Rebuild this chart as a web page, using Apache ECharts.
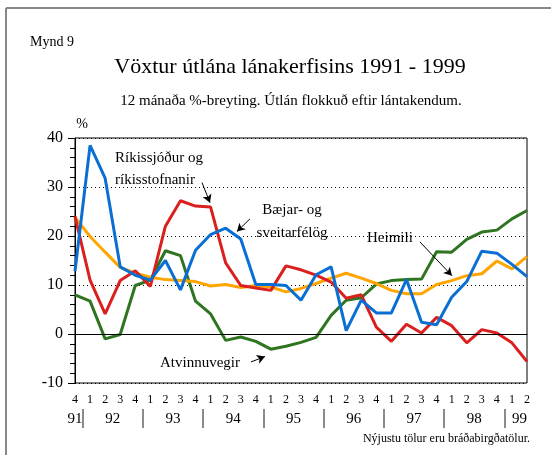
<!DOCTYPE html>
<html>
<head>
<meta charset="utf-8">
<script src="https://cdn.jsdelivr.net/npm/echarts@6/dist/echarts.min.js"></script>
<style>
  html, body { margin: 0; padding: 0; background: #fff; overflow: hidden; }
  #chart { width: 558px; height: 455px; }
</style>
</head>
<body>
<div id="chart"></div>
<script>
// Vöxtur útlána lánakerfisins 1991 - 1999, quarterly 4/91 .. 2/99

var quarters = ["4", "1", "2", "3", "4", "1", "2", "3", "4", "1", "2", "3", "4", "1", "2", "3",
  "4", "1", "2", "3", "4", "1", "2", "3", "4", "1", "2", "3", "4", "1", "2"];

// year labels sit on a half-step axis (index = 2 * quarter position)
var yearLabels = { 0: "91", 5: "92", 13: "93", 21: "94", 29: "95", 37: "96", 45: "97", 53: "98", 59: "99" };
var yearSeparators = [1, 9, 17, 25, 33, 41, 49, 57];

var bankar = [12.8, 38.5, 31.8, 13.7, 12.0, 11.0, 15.0, 9.0, 17.1, 20.3, 21.6, 19.4, 10.1, 10.1, 9.9, 6.9,
  12.1, 13.7, 0.7, 6.9, 4.3, 4.3, 11.1, 2.4, 1.9, 7.5, 10.7, 16.9, 16.5, 14.2, 11.7];
var rikid = [24.0, 11.0, 4.1, 10.9, 12.9, 9.7, 22.0, 27.2, 26.1, 25.9, 14.5, 9.9, 9.4, 8.9, 13.9, 13.1,
  12.0, 10.6, 7.3, 8.0, 1.4, -1.5, 2.0, 0.2, 3.4, 1.7, -1.8, 0.9, 0.2, -1.8, -5.6];
var heimili = [23.8, 19.9, 16.7, 13.6, 12.4, 11.6, 11.1, 10.9, 10.7, 9.8, 10.1, 9.5, 9.9, 9.6, 8.6, 9.3,
  10.3, 11.4, 12.4, 11.4, 10.3, 8.9, 8.2, 8.2, 10.1, 10.9, 11.9, 12.3, 14.9, 13.3, 15.8];
var atvinnuvegir = [8.0, 6.7, -1.0, -0.1, 9.9, 11.0, 17.0, 16.0, 6.7, 4.1, -1.3, -0.6, -1.5, -3.1, -2.5, -1.7,
  -0.7, 3.8, 6.9, 7.4, 10.2, 10.9, 11.1, 11.2, 16.8, 16.7, 19.3, 20.8, 21.2, 23.5, 25.2];

// arrows from label to line, in axis units [quarter index, %]
var arrows = [
  [[8.43, 30.9], [8.96, 26.8]],
  [[11.61, 23.5], [10.75, 20.9]],
  [[22.89, 18.8], [25.02, 11.9]],
  [[11.68, -5.7], [12.61, -4.6]]
];

var serif = "Liberation Serif";

var halfSteps = [];
for (var k = 0; k <= 60; k++) halfSteps.push(yearLabels[k] || "");

function pairs(arr) {
  return arr.map(function (v, i) { return [i, v]; });
}

var dom = document.getElementById("chart");
var myChart = echarts.init(dom);

var option = {
  animation: false,
  backgroundColor: "#fff",
  textStyle: { fontFamily: serif },
  grid: {
    left: 75,
    right: 31,
    top: 138,
    bottom: 72,
    show: true,
    borderColor: "#000",
    borderWidth: 1,
    backgroundColor: "transparent",
  },
  xAxis: [
    {
      type: "value",
      min: 0,
      max: 30,
      interval: 1,
      axisLine: { show: true, lineStyle: { color: "#000" } },
      axisTick: { show: false },
      splitLine: { show: false },
      axisLabel: {
        margin: 11,
        color: "#000",
        fontSize: 12,
        fontFamily: serif,
        formatter: function (v) { return quarters[v] || ""; },
      },
    },
    {
      type: "category",
      position: "bottom",
      offset: 26,
      boundaryGap: false,
      data: halfSteps,
      axisLine: { show: false },
      axisTick: {
        show: true,
        inside: false,
        length: 19,
        interval: function (idx) { return yearSeparators.indexOf(idx) >= 0; },
        lineStyle: { color: "#666", width: 1.5 },
      },
      axisLabel: {
        interval: 0,
        margin: 3,
        color: "#000",
        fontSize: 15,
        fontFamily: serif,
      },
      splitLine: { show: false },
    },
  ],
  yAxis: {
    type: "value",
    min: -10,
    max: 40,
    interval: 10,
    axisLine: { show: true, lineStyle: { color: "#000" } },
    axisTick: { show: true, length: 7, lineStyle: { color: "#000" } },
    minorTick: { show: true, splitNumber: 5, length: 5, lineStyle: { color: "#000" } },
    splitLine: { show: true, lineStyle: { color: "#000", type: [1, 3], width: 1 } },
    axisLabel: { margin: 12, color: "#000", fontSize: 16, fontFamily: serif },
  },
  series: [
    {
      name: "Atvinnuvegir",
      type: "line",
      data: pairs(atvinnuvegir),
      symbol: "none",
      lineStyle: { color: "#2f7420", width: 3 },
      markLine: {
        silent: true,
        symbol: "none",
        label: { show: false },
        lineStyle: { color: "#000", type: "solid", width: 1 },
        data: [{ yAxis: 0 }],
      },
    },
    {
      name: "Heimili",
      type: "line",
      data: pairs(heimili),
      symbol: "none",
      lineStyle: { color: "#ffa500", width: 3 },
      markLine: {
        silent: true,
        symbol: ["none", "arrow"],
        symbolSize: [7, 8],
        label: { show: false },
        lineStyle: { color: "#000", type: "solid", width: 1 },
        data: arrows.map(function (a) {
          return [{ coord: a[0] }, { coord: a[1] }];
        }),
      },
    },
    {
      name: "Ríkissjóður og ríkisstofnanir",
      type: "line",
      data: pairs(rikid),
      symbol: "none",
      lineStyle: { color: "#d9201e", width: 3 },
    },
    {
      name: "Bæjar- og sveitarfélög",
      type: "line",
      data: pairs(bankar),
      symbol: "none",
      lineStyle: { color: "#0a6fd2", width: 3 },
    },
  ],
  graphic: [
    { type: "line", shape: { x1: 6, y1: 8, x2: 551, y2: 8 }, style: { stroke: "#888", lineWidth: 2 } },
    { type: "line", shape: { x1: 6, y1: 8, x2: 6, y2: 455 }, style: { stroke: "#888", lineWidth: 2 } },
    { type: "text", left: 30, top: 35, style: { text: "Mynd 9", font: "14px " + serif, fill: "#000" } },
    { type: "text", x: 290, y: 67, style: { text: "Vöxtur útlána lánakerfisins 1991 - 1999", font: "22px " + serif, fill: "#000", align: "center", verticalAlign: "middle" } },
    { type: "text", x: 291, y: 101, style: { text: "12 mánaða %-breyting. Útlán flokkuð eftir lántakendum.", font: "15px " + serif, fill: "#000", align: "center", verticalAlign: "middle" } },
    { type: "text", x: 82, y: 124, style: { text: "%", font: "14px " + serif, fill: "#000", align: "center", verticalAlign: "middle" } },
    { type: "text", x: 115, y: 158, style: { text: "Ríkissjóður og", font: "15px " + serif, fill: "#000", verticalAlign: "middle" } },
    { type: "text", x: 115, y: 180, style: { text: "ríkisstofnanir", font: "15px " + serif, fill: "#000", verticalAlign: "middle" } },
    { type: "text", x: 292, y: 210, style: { text: "Bæjar- og", font: "15px " + serif, fill: "#000", align: "center", verticalAlign: "middle" } },
    { type: "text", x: 292, y: 233, style: { text: "sveitarfélög", font: "15px " + serif, fill: "#000", align: "center", verticalAlign: "middle", backgroundColor: "#fff" } },
    { type: "text", x: 367, y: 238, style: { text: "Heimili", font: "15px " + serif, fill: "#000", verticalAlign: "middle", backgroundColor: "#fff" } },
    { type: "text", x: 160, y: 363, style: { text: "Atvinnuvegir", font: "15px " + serif, fill: "#000", verticalAlign: "middle" } },
    { type: "text", x: 530, y: 439, style: { text: "Nýjustu tölur eru bráðabirgðatölur.", font: "12px " + serif, fill: "#000", align: "right", verticalAlign: "middle" } },
  ],
};

if (option && typeof option === "object") {
  myChart.setOption(option);
}
</script>
</body>
</html>
